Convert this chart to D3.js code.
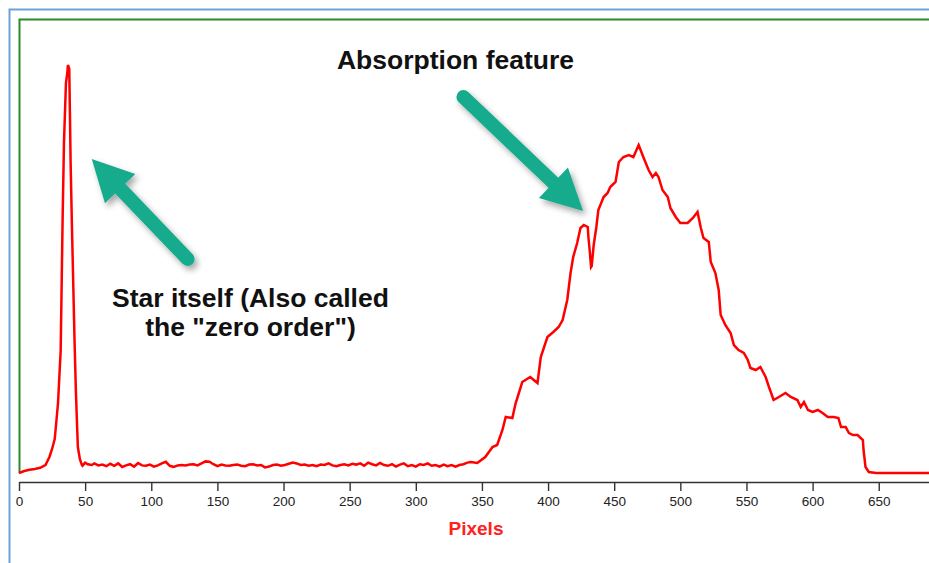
<!DOCTYPE html>
<html>
<head>
<meta charset="utf-8">
<script src="https://cdn.jsdelivr.net/npm/d3@7/dist/d3.min.js"></script>
<style>
    body { margin: 0; background: #fff; }
    svg { display: block; }
</style>
</head>
<body>
<div id="chart"></div>
<script>

// Spectrum: [pixel, intensity]
const zeroOrder = [
    [0, 0], [4, 0.5], [8, 0.8], [12, 1], [16, 1.3], [20, 2], [23, 4], [25, 6], [27, 8.5],
    [28, 12], [29.5, 17.5], [31.5, 30.5], [33, 64], [34, 82.5], [35.5, 97.5], [36.5, 100],
    [37, 102], [38, 101], [38.5, 90], [39, 78], [40, 62], [41, 47.5], [42, 33], [43, 20.5],
    [44, 11], [44.5, 6.5], [46, 3.5], [47.5, 2]
];

const background = [
    [48, 1.8], [50, 2.6], [52, 2.2], [55, 2.0], [57, 2.4], [60, 1.9], [63, 2.1], [66, 1.7],
    [69, 2.3], [72, 1.8], [75, 2.4], [78, 1.5], [81, 1.9], [84, 2.2], [87, 1.6], [90, 2.5],
    [93, 1.9], [96, 1.8], [99, 2.1], [102, 1.6], [105, 1.9], [108, 2.4], [111, 2.8], [114, 1.8],
    [117, 1.5], [120, 1.9], [123, 2.0], [126, 1.9], [129, 2.1], [132, 2.2], [135, 1.9], [138, 2.4],
    [141, 2.9], [144, 2.8], [147, 2.2], [150, 1.7], [153, 2.1], [156, 1.9], [159, 1.8], [162, 2.0],
    [165, 2.1], [168, 1.8], [171, 1.7], [174, 2.1], [177, 2.2], [180, 1.9], [183, 2.0], [186, 1.4],
    [189, 1.6], [192, 2.0], [195, 2.1], [198, 1.8], [201, 2.0], [204, 2.3], [207, 2.6], [210, 2.4],
    [213, 2.0], [216, 2.1], [219, 1.8], [222, 2.0], [225, 1.7], [228, 2.1], [231, 2.0], [234, 2.4],
    [237, 1.9], [240, 1.7], [243, 2.0], [246, 2.2], [249, 1.9], [252, 2.3], [255, 2.1], [258, 2.4],
    [261, 1.8], [264, 2.6], [267, 2.2], [270, 1.9], [273, 2.5], [276, 2.0], [279, 1.8], [282, 2.2],
    [285, 1.6], [288, 2.1], [291, 2.4], [294, 1.7], [297, 2.0], [300, 1.6], [303, 2.2], [306, 2.0],
    [309, 2.4], [312, 1.8], [315, 2.0], [318, 1.6], [321, 2.1], [324, 1.7], [327, 2.0], [330, 1.6],
    [333, 2.0], [336, 2.2], [339, 2.6]
];

const firstOrder = [
    [341.5, 2.75], [346.5, 2.5], [352.5, 4], [358, 6.5], [361.5, 7], [365.5, 10.75], [368, 14],
    [373, 13.75], [375.5, 17.5], [377, 19], [380.5, 22.75], [386.5, 24], [392, 22.5], [394.5, 29],
    [399.5, 34], [404, 35.25], [408, 36.5], [411, 38.25], [414.5, 43.25], [417, 50], [419, 54],
    [422, 57.5], [424.5, 61.25], [427, 62], [430, 61.5], [430.5, 59], [431.5, 55.5], [432.5, 51.5],
    [433, 51.75], [434.5, 57], [436.5, 61.5], [438, 65.75], [442, 69], [445, 70], [447, 71.5],
    [451, 72.75], [453.5, 77.75], [457, 79], [461, 79.5], [464.5, 79], [468.5, 82], [472, 79],
    [476, 75.75], [479, 74], [481.5, 75], [483.5, 74], [486.5, 70.75], [490.5, 69], [492.5, 66.25],
    [496.5, 64], [500, 62.5], [505.5, 62.5], [509.5, 63.75], [513, 65.25], [515.5, 61.25],
    [517.5, 58.75], [521.5, 57.75], [523, 52.75], [526.5, 50], [529, 45.75], [530.5, 39.5],
    [534, 37], [538, 35], [540.5, 32], [544, 30.75], [548, 30], [551, 28.25], [553, 26.25],
    [557, 25.75], [560.5, 26.5], [564.5, 24], [567, 21.5], [570.5, 18.25], [574.5, 19],
    [579.5, 20], [583.5, 19], [588.5, 18.25], [591, 16.5], [593.5, 17.75], [596.5, 15.75],
    [600, 15.25], [604, 15.75], [607.5, 15], [611.5, 14], [616, 14], [619.5, 13.75], [621.5, 11.5],
    [625, 11.5], [627.5, 10], [630.5, 9.5], [634, 9.5], [638, 8.25], [638.5, 5.75], [640, 1.5],
    [642.5, 0.25], [648, 0], [688, 0]
];

const xTicks = [0, 50, 100, 150, 200, 250, 300, 350, 400, 450, 500, 550, 600, 650];
const xLabel = "Pixels";

// Annotation text and arrows, anchored in data units [pixel, intensity]
const notes = [
    { lines: ["Absorption feature"], at: [330, 101] },
    { lines: ["Star itself (Also called", "the \"zero order\")"], at: [175, 41.5] }
];
const arrows = [
    { tail: [127.5, 53.5], tip: [55, 78.5] },
    { tail: [336, 94], tip: [426.5, 65.5] }
];

class SpectrumChart {

    constructor(parentElement) {
        this.parentElement = parentElement;
        this.initVis();
    }

    initVis() {
        let vis = this;

        vis.width = 929;
        vis.height = 563;

        vis.svg = d3.select("#" + vis.parentElement).append("svg")
            .attr("width", vis.width)
            .attr("height", vis.height);

        // soft shadow under the arrows
        const filter = vis.svg.append("defs").append("filter")
            .attr("id", "shadow")
            .attr("x", "-30%").attr("y", "-30%")
            .attr("width", "160%").attr("height", "160%");
        filter.append("feDropShadow")
            .attr("dx", 3).attr("dy", 4)
            .attr("stdDeviation", 3)
            .attr("flood-color", "#000")
            .attr("flood-opacity", 0.35);

        // Outer blue frame
        vis.svg.append("path")
            .attr("d", "M9.5,563V9.5H929")
            .attr("fill", "none")
            .attr("stroke", "#6aa2dc")
            .attr("stroke-width", 2);

        // Scales
        vis.x = d3.scaleLinear()
            .domain([0, 688])
            .range([19, 929]);

        vis.y = d3.scaleLinear()
            .domain([0, 100])
            .range([473, 73]);

        // Green plot border (top + left only)
        vis.svg.append("path")
            .attr("d", `M19.5,${vis.y(0)}V19.5H929`)
            .attr("fill", "none")
            .attr("stroke", "#2b8a2b")
            .attr("stroke-width", 2);

        // X axis
        vis.xAxis = d3.axisBottom(vis.x)
            .tickValues(xTicks)
            .tickSize(9)
            .tickPadding(5)
            .tickSizeOuter(0);

        const axisG = vis.svg.append("g")
            .attr("class", "x-axis axis")
            .attr("transform", "translate(0,482)")
            .call(vis.xAxis);

        axisG.select(".domain")
            .attr("stroke", "#333")
            .attr("stroke-width", 1.6);
        axisG.selectAll(".tick line")
            .attr("stroke", "#333")
            .attr("stroke-width", 1.4);
        axisG.selectAll(".tick text")
            .attr("fill", "#222")
            .style("font-family", "'Liberation Sans', Arial, sans-serif")
            .style("font-size", "13.5px");

        // Axis label
        vis.svg.append("text")
            .attr("x", 476)
            .attr("y", 535)
            .attr("text-anchor", "middle")
            .attr("fill", "#ff2020")
            .style("font-family", "'Liberation Sans', Arial, sans-serif")
            .style("font-weight", "bold")
            .style("font-size", "19px")
            .text(xLabel);

        vis.updateVis();
    }

    updateVis() {
        let vis = this;

        const line = d3.line()
            .x(d => vis.x(d[0]))
            .y(d => vis.y(d[1]));

        const spectrum = zeroOrder.concat(background, firstOrder);

        vis.svg.append("path")
            .datum(spectrum)
            .attr("class", "spectrum")
            .attr("d", line)
            .attr("fill", "none")
            .attr("stroke", "#ff0000")
            .attr("stroke-width", 2.5)
            .attr("stroke-linejoin", "miter");

        // Arrows
        const headLen = 41, headHalf = 21, shaft = 14;
        arrows.forEach(a => {
            const x0 = vis.x(a.tail[0]), y0 = vis.y(a.tail[1]);
            const x1 = vis.x(a.tip[0]), y1 = vis.y(a.tip[1]);
            const len = Math.hypot(x1 - x0, y1 - y0);
            const ux = (x1 - x0) / len, uy = (y1 - y0) / len;
            const nx = -uy, ny = ux;
            const bx = x1 - ux * headLen, by = y1 - uy * headLen;

            const g = vis.svg.append("g")
                .attr("class", "arrow")
                .attr("filter", "url(#shadow)");

            g.append("line")
                .attr("x1", x0).attr("y1", y0)
                .attr("x2", bx + ux * 4).attr("y2", by + uy * 4)
                .attr("stroke", "#16ab8c")
                .attr("stroke-width", shaft)
                .attr("stroke-linecap", "round");

            g.append("path")
                .attr("d", `M${x1},${y1}L${bx + nx * headHalf},${by + ny * headHalf}L${bx - nx * headHalf},${by - ny * headHalf}Z`)
                .attr("fill", "#16ab8c");
        });

        // Annotation text
        notes.forEach(n => {
            const t = vis.svg.append("text")
                .attr("x", vis.x(n.at[0]))
                .attr("y", vis.y(n.at[1]))
                .attr("text-anchor", "middle")
                .attr("fill", "#111")
                .style("font-family", "'Liberation Sans', Arial, sans-serif")
                .style("font-weight", "bold")
                .style("font-size", "26.5px");
            n.lines.forEach((l, i) => {
                t.append("tspan")
                    .attr("x", vis.x(n.at[0]))
                    .attr("dy", i === 0 ? 0 : 29)
                    .text(l);
            });
        });
    }
}

new SpectrumChart("chart");

</script>
</body>
</html>
